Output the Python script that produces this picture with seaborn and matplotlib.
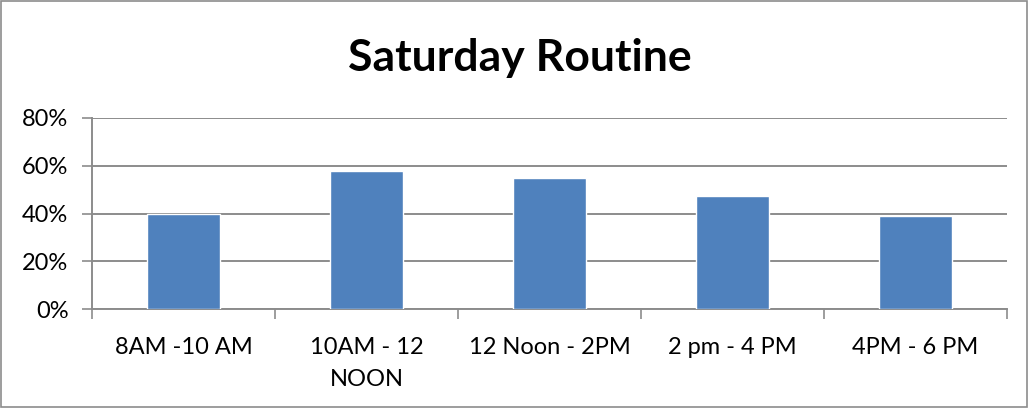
import matplotlib
matplotlib.use("Agg")
import matplotlib.pyplot as plt
import seaborn as sns
import pandas as pd
from matplotlib.patches import Rectangle
from matplotlib.ticker import FixedLocator, PercentFormatter

# data
slots = ["8AM -10 AM", "10AM - 12\nNOON", "12 Noon - 2PM", "2 pm - 4 PM", "4PM - 6 PM"]
share = [40, 58, 55, 47.5, 39]

df = pd.DataFrame({"slot": slots, "share": share})

sns.set_style("white")
plt.rcParams["font.family"] = ["Lato", "DejaVu Sans"]

fig = plt.figure(figsize=(10.29, 4.08), dpi=100)
ax = fig.add_axes([0.0894, 0.2426, 0.8892, 0.4682])

sns.barplot(data=df, x="slot", y="share", color="#4F81BD", width=0.4,
            saturation=1, ax=ax, zorder=3)

ax.set_ylim(0, 80)
ax.set_xlim(-0.5, len(slots) - 0.5)
ax.set_yticks([0, 20, 40, 60, 80])
ax.yaxis.set_major_formatter(PercentFormatter(decimals=0))
ax.grid(axis="y", color="#8c8c8c", linewidth=1.4, zorder=0)
ax.set_axisbelow(True)

ax.xaxis.set_minor_locator(FixedLocator([i - 0.5 for i in range(len(slots) + 1)]))
ax.tick_params(axis="x", which="major", length=0, pad=20, labelsize=17, labelcolor="black")
ax.tick_params(axis="x", which="minor", length=7, width=1.2, color="#8c8c8c", direction="out")
ax.tick_params(axis="y", length=7, width=1.2, color="#8c8c8c", direction="out",
               labelsize=17, labelcolor="black", pad=10)
ax.xaxis.set_tick_params(which="both", bottom=True)
ax.yaxis.set_tick_params(left=True)
for lbl in ax.get_xticklabels():
    lbl.set_linespacing(1.65)

for side in ["top", "right"]:
    ax.spines[side].set_visible(False)
for side in ["left", "bottom"]:
    ax.spines[side].set_color("#8c8c8c")
    ax.spines[side].set_linewidth(1.4)

ax.set_xlabel("")
ax.set_ylabel("")

fig.text(0.505, 0.858, "Saturday Routine", ha="center", va="center",
         fontsize=32, fontweight="bold", color="black")

# thin frame around the whole chart
fig.patches.append(Rectangle((0.001, 0.002), 0.997, 0.995, transform=fig.transFigure,
                             fill=False, edgecolor="#8c8c8c", linewidth=1.2))

fig.savefig("out.png", dpi=100)
